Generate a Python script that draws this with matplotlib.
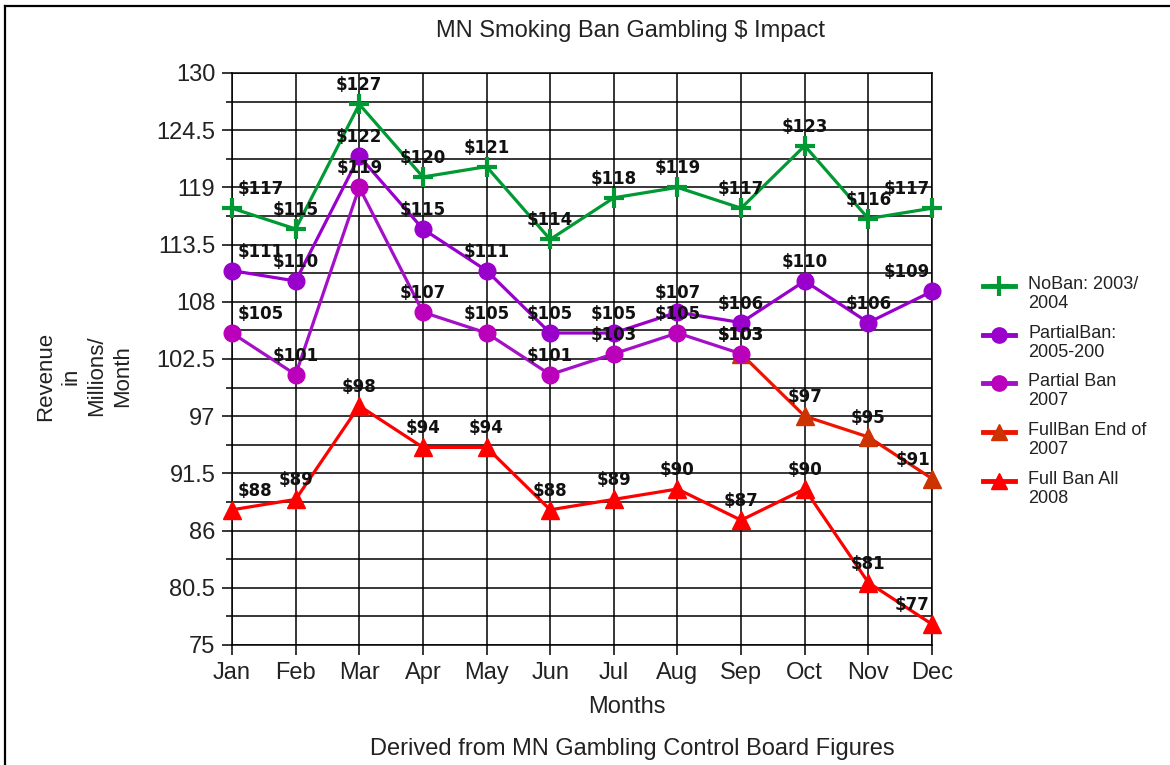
import matplotlib.pyplot as plt
from matplotlib.lines import Line2D

plt.rcParams['font.family'] = ['Liberation Sans', 'DejaVu Sans']

# Data
months = ['Jan', 'Feb', 'Mar', 'Apr', 'May', 'Jun', 'Jul', 'Aug', 'Sep', 'Oct', 'Nov', 'Dec']
no_ban = [117, 115, 127, 120, 121, 114, 118, 119, 117, 123, 116, 117]
partial_ban = [111, 110, 122, 115, 111, 105, 105, 107, 106, 110, 106, 109]
partial_2007 = [105, 101, 119, 107, 105, 101, 103, 105, 103]          # Jan-Sep
full_end_2007 = [103, 97, 95, 91]                                     # Sep-Dec
full_2008 = [88, 89, 98, 94, 94, 88, 89, 90, 87, 90, 81, 77]

y_ticks = [75, 80.5, 86, 91.5, 97, 102.5, 108, 113.5, 119, 124.5, 130]

idx = list(range(len(months)))

# series: (label, x, y, line colour, marker colour, marker, size)
series = [
    ('Full Ban All\n2008', idx, full_2008, '#ff0000', '#ff0000', '^', 13),
    ('FullBan End of\n2007', idx[8:], full_end_2007, '#ee1500', '#cc3300', '^', 13),
    ('Partial Ban\n2007', idx[:9], partial_2007, '#a410c8', '#bb00bb', 'o', 12),
    ('PartialBan:\n2005-200', idx, partial_ban, '#9900cc', '#9900cc', 'o', 12),
    ('NoBan: 2003/\n2004', idx, no_ban, '#009933', '#009933', '+', 15),
]

W, H = 1170, 765
fig = plt.figure(figsize=(W / 100, H / 100), dpi=100)
ax = fig.add_axes([232 / W, 1 - 645 / H, 700 / W, 572 / H])

for label, xs, ys, lc, mc, mk, ms in series:
    ax.plot(xs, ys, color=lc, lw=2.3, marker=mk, ms=ms, mfc=mc, mec=mc,
            mew=3 if mk == '+' else 1, clip_on=False, zorder=3)
    for x, y in zip(xs, ys):
        if x == 0:
            ha, dx = 'left', 6
        elif x == len(months) - 1:
            ha, dx = 'right', -2
        else:
            ha, dx = 'center', 0
        ax.annotate(f'${y}', (x, y), xytext=(dx, 19), textcoords='offset pixels',
                    ha=ha, va='center', fontsize=12, fontweight='bold',
                    family='DejaVu Sans', color='#111111', zorder=5,
                    annotation_clip=False)

ax.set_xlim(0, 11)
ax.set_ylim(75, 130)
ax.set_xticks(idx)
ax.set_xticklabels(months)
ax.set_yticks(y_ticks)
ax.set_yticklabels([f'{v:g}' for v in y_ticks])
ax.set_yticks([(a + b) / 2 for a, b in zip(y_ticks[:-1], y_ticks[1:])], minor=True)
ax.grid(True, which='both', axis='y', color='black', lw=1.1)
ax.grid(True, which='major', axis='x', color='black', lw=1.1)
ax.tick_params(axis='both', which='major', length=7, width=1.1, labelsize=17,
               pad=5, colors='black', labelcolor='#222222')
ax.tick_params(axis='y', which='minor', length=4, width=1.1)
for s in ax.spines.values():
    s.set_color('black')
    s.set_linewidth(1.1)
ax.set_axisbelow(True)

# titles and axis texts
fig.text(630 / W, 1 - 31 / H, 'MN Smoking Ban Gambling $ Impact', ha='center',
         va='center', fontsize=17, color='#222222')
fig.text(627 / W, 1 - 707 / H, 'Months', ha='center', va='center', fontsize=17,
         color='#222222')
fig.text(632 / W, 1 - 749 / H, 'Derived from MN Gambling Control Board Figures',
         ha='center', va='center', fontsize=17, color='#222222')
fig.text(84 / W, 1 - 376 / H, 'Revenue\nin\nMillions/\nMonth', rotation=90,
         ha='center', va='center', multialignment='center', fontsize=16,
         color='#222222', linespacing=1.3)

# legend, drawn by hand so the marker sits on the first text line
for j, (label, xs, ys, lc, mc, mk, ms) in enumerate(reversed(series)):
    yy = 1 - (286 + 48.7 * j) / H
    fig.add_artist(Line2D([983 / W, 1015 / W], [yy, yy], transform=fig.transFigure,
                          color=lc, lw=3.5))
    fig.add_artist(Line2D([999 / W], [yy], transform=fig.transFigure, marker=mk,
                          ms=ms - 1, mfc=mc, mec=mc, mew=3 if mk == '+' else 1,
                          lw=0))
    fig.text(1028 / W, yy + 10 / H, label, ha='left', va='top', fontsize=13,
             color='#222222', linespacing=1.15)

# outer frame (top and left edges)
fig.add_artist(Line2D([5 / W, 1], [1 - 6 / H, 1 - 6 / H], transform=fig.transFigure,
                      color='black', lw=1.6))
fig.add_artist(Line2D([5 / W, 5 / W], [0, 1 - 6 / H], transform=fig.transFigure,
                      color='black', lw=1.6))

fig.savefig('out.png', dpi=100)
